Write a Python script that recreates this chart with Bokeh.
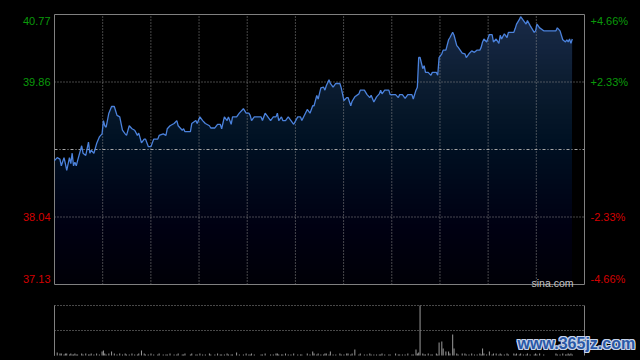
import numpy as np
from bokeh.plotting import figure
from bokeh.models import Range1d, Label
from bokeh.layouts import column
from bokeh.embed import file_html
from bokeh.resources import INLINE

# ---- data ----
minutes = [
    0, 2, 4, 5, 7, 8, 9, 11, 12, 13,
    14, 15, 16, 17, 20, 21, 23, 25, 26, 27,
    29, 31, 33, 35, 36, 37, 38, 40, 42, 44,
    46, 48, 50, 52, 53, 55, 57, 59, 61, 62,
    64, 66, 67, 69, 71, 73, 76, 77, 80, 82,
    83, 85, 88, 90, 91, 94, 95, 96, 100, 101,
    104, 105, 107, 109, 111, 114, 115, 118, 120, 122,
    123, 125, 127, 128, 130, 131, 134, 136, 139, 141,
    143, 144, 145, 147, 152, 153, 155, 159, 161, 163,
    164, 165, 167, 168, 170, 172, 174, 176, 179, 181,
    182, 186, 188, 190, 191, 193, 194, 196, 198, 199,
    200, 202, 203, 205, 207, 210, 211, 213, 215, 216,
    218, 219, 221, 224, 225, 228, 230, 232, 233, 235,
    237, 239, 240, 241, 243, 246, 247, 251, 253, 254,
    256, 258, 260, 263, 264, 266, 267, 268, 269, 271,
    272, 273, 275, 277, 278, 281, 282, 283, 285, 286,
    288, 290, 291, 293, 294, 296, 297, 300, 302, 303,
    305, 307, 309, 311, 313, 314, 315, 316, 318, 320,
    322, 323, 325, 327, 328, 329, 331, 333, 334, 338,
    339, 340, 342, 343, 345, 347, 348, 350, 353, 354,
    355, 357, 360, 369, 370, 372, 374, 376, 377, 378,
    379, 380, 381,
]
prices = [
    38.80, 38.84, 38.82, 38.73, 38.84, 38.76, 38.67, 38.84, 38.76, 38.90,
    38.73, 38.78, 38.73, 38.80, 39.00, 38.90, 38.87, 39.05, 38.90, 38.94,
    38.90, 39.03, 39.12, 39.16, 39.34, 39.27, 39.25, 39.44, 39.53, 39.53,
    39.41, 39.39, 39.21, 39.16, 39.14, 39.27, 39.23, 39.21, 39.14, 39.17,
    39.04, 39.09, 39.09, 38.99, 38.99, 39.09, 39.09, 39.14, 39.16, 39.14,
    39.23, 39.27, 39.30, 39.34, 39.27, 39.21, 39.23, 39.19, 39.19, 39.30,
    39.34, 39.30, 39.39, 39.34, 39.30, 39.27, 39.24, 39.24, 39.29, 39.29,
    39.23, 39.39, 39.34, 39.39, 39.29, 39.39, 39.39, 39.44, 39.50, 39.44,
    39.44, 39.41, 39.34, 39.39, 39.39, 39.34, 39.44, 39.34, 39.39, 39.39,
    39.44, 39.34, 39.39, 39.34, 39.34, 39.39, 39.34, 39.29, 39.39, 39.39,
    39.34, 39.49, 39.44, 39.54, 39.54, 39.68, 39.63, 39.78, 39.79, 39.75,
    39.81, 39.89, 39.84, 39.79, 39.84, 39.84, 39.78, 39.61, 39.65, 39.65,
    39.54, 39.60, 39.66, 39.70, 39.75, 39.75, 39.69, 39.65, 39.68, 39.59,
    39.66, 39.70, 39.75, 39.70, 39.75, 39.75, 39.69, 39.69, 39.65, 39.69,
    39.69, 39.64, 39.69, 39.69, 39.63, 39.75, 39.79, 40.19, 40.19, 40.04,
    40.08, 39.99, 39.99, 39.95, 39.99, 39.99, 39.95, 40.19, 40.24, 40.29,
    40.29, 40.43, 40.46, 40.53, 40.49, 40.35, 40.33, 40.25, 40.24, 40.19,
    40.24, 40.28, 40.26, 40.29, 40.29, 40.33, 40.40, 40.44, 40.40, 40.50,
    40.50, 40.40, 40.44, 40.38, 40.49, 40.44, 40.51, 40.46, 40.53, 40.53,
    40.58, 40.64, 40.70, 40.74, 40.69, 40.64, 40.69, 40.62, 40.53, 40.55,
    40.64, 40.59, 40.55, 40.55, 40.59, 40.55, 40.43, 40.40, 40.43, 40.40,
    40.44, 40.38, 40.44,
]
volumes = [
    4, 3, 2, 2, 1, 2, 2, 1, 2, 1,
    1, 2, 1, 1, 2, 1, 2, 1, 1, 2,
    1, 2, 1, 4, 5, 2, 1, 2, 4, 2,
    1, 2, 1, 2, 1, 1, 2, 1, 1, 2,
    5, 2, 1, 1, 2, 1, 1, 2, 1, 1,
    1, 2, 1, 1, 2, 1, 1, 2, 1, 2,
    1, 1, 2, 1, 1, 2, 1, 1, 2, 1,
    1, 1, 2, 1, 1, 1, 3, 1, 1, 2,
    1, 1, 2, 1, 1, 1, 2, 1, 1, 2,
    2, 1, 1, 1, 2, 1, 1, 2, 1, 1,
    1, 2, 1, 4, 2, 1, 2, 1, 1, 2,
    2, 1, 4, 1, 1, 2, 1, 1, 2, 2,
    1, 2, 6, 1, 2, 1, 1, 2, 1, 1,
    1, 1, 1, 2, 1, 1, 1, 2, 1, 1,
    1, 1, 2, 1, 1, 6, 2, 3, 50, 2,
    1, 1, 2, 1, 1, 2, 1, 13, 14, 7,
    4, 4, 2, 21, 7, 2, 1, 2, 2, 1,
    1, 2, 1, 1, 2, 1, 7, 2, 1, 4,
    1, 2, 2, 1, 2, 1, 1, 2, 1, 2,
    1, 2, 1, 2, 1, 1, 2, 1, 1, 2,
    1, 2, 1, 2, 1, 1, 2, 1, 1, 2,
    1, 2, 1,
]
n = min(len(minutes), len(prices), len(volumes))
minutes, prices, volumes = minutes[:n], prices[:n], volumes[:n]

session_minutes = 390
price_low, price_high = 37.13, 40.77
prev_close = 38.95
price_ticks = [40.77, 39.86, 38.04, 37.13]
price_labels = ["40.77", "39.86", "38.04", "37.13"]
pct_labels = ["+4.66%", "+2.33%", "-2.33%", "-4.66%"]
label_colors = ["#0a9a0a", "#0a9a0a", "#d40000", "#d40000"]
label_offsets = [-6, 0, 0, 6]
vol_max = 50

FONT = "Liberation Sans"
GRID = "#8c8c8c"
BORDER = "#808080"

# ---- pixel layout (style only) ----
W = 640
H_MAIN, H_VOL = 295, 65
PL, PR = 54, 584            # plot area left/right (px)
PT, PB = 14, 284            # main plot area top/bottom (px)
VT, VB = 10, 60             # volume area top/bottom inside volume figure (px)

mpp = session_minutes / (PR - PL)          # minutes per pixel
x_start = -PL * mpp
x_end = session_minutes + (W - PR) * mpp
ppp = (price_high - price_low) / (PB - PT)  # price per pixel
y_start = price_low - (H_MAIN - PB) * ppp
y_end = price_high + PT * ppp

# ---- main price panel ----
p = figure(width=W, height=H_MAIN, title=None,
           x_range=Range1d(x_start, x_end), y_range=Range1d(y_start, y_end),
           x_axis_location=None, y_axis_location=None, toolbar_location=None,
           output_backend="svg", min_border=0,
           background_fill_color="black", border_fill_color="black",
           outline_line_color=None)
for g in p.grid:
    g.visible = False

# area under the line with a vertical gradient (darkening towards the bottom)
top_rgb = np.array([25, 42, 73], dtype=float)
n_bands = 54
band_h = (price_high - price_low) / n_bands
bright = 1 - 0.86 * (np.arange(n_bands) + 0.5) / n_bands
c0 = tuple(int(round(v)) for v in top_rgb * bright[0])
p.varea(x=minutes, y1=price_low, y2=prices, fill_color="#%02x%02x%02x" % c0)
alphas = (1 - bright[1:] / bright[:-1]).tolist()
tops = (price_high - np.arange(1, n_bands) * band_h).tolist()
p.quad(left=0, right=session_minutes, bottom=price_low, top=tops,
       fill_color="black", fill_alpha=alphas, line_color=None)

# grid
vticks = [session_minutes * k / 11 for k in range(1, 11)]
p.segment(x0=vticks, x1=vticks, y0=price_low, y1=price_high,
          line_color=GRID, line_dash="1 2", line_width=1)
hticks = [39.86, 38.04]
p.segment(x0=0, x1=session_minutes, y0=hticks, y1=hticks,
          line_color=GRID, line_dash="1 2", line_width=1)
p.segment(x0=[0], x1=[session_minutes], y0=[prev_close], y1=[prev_close],
          line_color="#a8a8a8", line_dash="3 2 1 2", line_width=1)

# border
p.quad(left=[0], right=[session_minutes], bottom=[price_low], top=[price_high],
       fill_color=None, line_color=BORDER, line_width=1)

p.line(minutes, prices, line_color="#4b82dc", line_width=1.3)

for val, txt, pct, col, off in zip(price_ticks, price_labels, pct_labels, label_colors, label_offsets):
    p.add_layout(Label(x=0, y=val, text=txt, text_align="right", text_baseline="middle",
                       x_offset=-4, y_offset=off, text_color=col, text_font=FONT,
                       text_font_size="11px"))
    p.add_layout(Label(x=session_minutes, y=val, text=pct, text_align="left", text_baseline="middle",
                       x_offset=6, y_offset=off, text_color=col, text_font=FONT,
                       text_font_size="11px"))

p.add_layout(Label(x=session_minutes, y=price_low, text="sina.com", text_align="right",
                   text_baseline="alphabetic", x_offset=-11, y_offset=2, text_color="#c4c4c4",
                   text_font=FONT, text_font_size="10.5px"))

# ---- volume panel ----
v_start = -(H_VOL - VB)
v_end = vol_max + VT
v = figure(width=W, height=H_VOL, title=None,
           x_range=p.x_range, y_range=Range1d(v_start, v_end),
           x_axis_location=None, y_axis_location=None, toolbar_location=None,
           output_backend="svg", min_border=0,
           background_fill_color="black", border_fill_color="black",
           outline_line_color=None)
for g in v.grid:
    g.visible = False
v.vbar(x=minutes, top=volumes, bottom=0, width=0.74, fill_color="#9a9a9a", line_color=None)
vlev = [vol_max, vol_max / 2]
v.segment(x0=0, x1=session_minutes, y0=vlev, y1=vlev,
          line_color="#909090", line_dash="1 2", line_width=1)
v.segment(x0=[0, session_minutes], x1=[0, session_minutes], y0=0, y1=vol_max,
          line_color=BORDER, line_width=1)

wm = "www.365jz.com"
for dx in (-1, 0, 1):
    for dy in (-1, 0, 1):
        if dx == 0 and dy == 0:
            continue
        v.add_layout(Label(x=session_minutes, y=vol_max, text=wm, text_align="left",
                           text_baseline="top", x_offset=-67 + dx, y_offset=-29 + dy,
                           text_color="#c6d3ea", text_font=FONT, text_font_size="16px",
                           text_font_style="bold"))
v.add_layout(Label(x=session_minutes, y=vol_max, text=wm, text_align="left",
                   text_baseline="top", x_offset=-67, y_offset=-29,
                   text_color="#2a58a6", text_font=FONT, text_font_size="16px",
                   text_font_style="bold"))

layout = column(p, v, spacing=0, styles={"background-color": "black"})
html = file_html(layout, INLINE)
html = html.replace("<body>", '<body style="margin:0;background-color:#000;">', 1)
open("out.html", "w").write(html)
